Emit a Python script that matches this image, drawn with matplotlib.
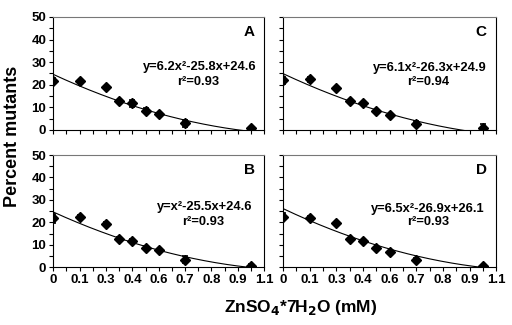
import numpy as np
import matplotlib
matplotlib.use('Agg')
import matplotlib.pyplot as plt
from matplotlib.ticker import MultipleLocator

plt.rcParams['font.family'] = ['Liberation Sans', 'DejaVu Sans']
plt.rcParams['font.weight'] = 'bold'

# dose positions on the tick grid (one step per labelled tick)
dose_pos = [0, 1, 2, 2.5, 3, 3.5, 4, 5, 7.5]
tick_labels = ['0', '0.1', '0.3', '0.4', '0.6', '0.7', '0.8', '0.9', '1.1']
y_ticks = [0, 10, 20, 30, 40, 50]

mut_a = [21.7, 21.7, 18.9, 12.7, 11.8, 8.5, 7.1, 3.0, 1.0]
err_a = [1.5, 0.5, 0.5, 0.5, 1.5, 1.2, 0.5, 1.5, 0.5]
mut_b = [21.7, 22.4, 19.4, 12.7, 11.7, 8.7, 7.5, 3.3, 0.7]
err_b = [1.8, 0.8, 0.8, 0.8, 0.8, 0.8, 0.8, 1.5, 0.5]
mut_c = [22.0, 22.4, 18.7, 12.7, 11.8, 8.5, 6.7, 2.8, 1.0]
err_c = [1.5, 1.0, 0.5, 0.5, 0.5, 0.5, 0.5, 1.0, 1.8]
mut_d = [22.5, 22.1, 19.6, 12.7, 11.7, 8.7, 6.7, 3.3, 0.5]
err_d = [1.5, 0.5, 0.5, 0.5, 0.5, 0.5, 0.5, 1.0, 0.5]

# quadratic trend lines (a, b, c) and their printed equations
fit_a = (6.2, -25.8, 24.6)
fit_b = (6.2, -25.5, 24.6)   # printed without the x^2 coefficient
fit_c = (6.1, -26.3, 24.9)
fit_d = (6.5, -26.9, 26.1)
eq_a = 'y=6.2x\u00b2-25.8x+24.6'
eq_b = 'y=x\u00b2-25.5x+24.6'
eq_c = 'y=6.1x\u00b2-26.3x+24.9'
eq_d = 'y=6.5x\u00b2-26.9x+26.1'
r2 = {'A': 0.93, 'B': 0.93, 'C': 0.94, 'D': 0.93}

fit_scale = 0.21  # fit units per tick step


def draw_panel(ax, mut, err, fit, eq, letter, show_x, show_y, eq_xy, r2_xy):
    x = np.array(dose_pos, dtype=float)
    xs = np.linspace(0, 7.5, 200)
    u = xs * fit_scale
    ax.plot(xs, fit[0] * u ** 2 + fit[1] * u + fit[2], color='black', lw=0.8)
    ax.errorbar(x, mut, yerr=err, fmt='D', color='black', ms=5.5,
                elinewidth=1.2, capsize=2.5, capthick=1.2)
    ax.set_xticks(range(len(tick_labels)))
    ax.set_yticks(y_ticks)
    ax.xaxis.set_minor_locator(MultipleLocator(0.5))
    ax.yaxis.set_minor_locator(MultipleLocator(5))
    ax.set_xlim(0, 8)
    ax.set_ylim(0, 50)
    ax.tick_params(which='both', direction='out', length=3, width=0.8,
                   labelsize=9.5, pad=2)
    if show_x:
        ax.set_xticklabels(tick_labels, fontweight='bold')
    else:
        ax.set_xticklabels([])
    if show_y:
        ax.set_yticklabels([str(v) for v in y_ticks], fontweight='bold')
    else:
        ax.set_yticklabels([])
    ax.spines['top'].set_color('#777777')
    for sp in ax.spines.values():
        sp.set_linewidth(0.8)
    ax.text(0.955, 0.87, letter, transform=ax.transAxes, ha='right',
            va='center', fontsize=11, fontweight='bold')
    ax.text(eq_xy[0], eq_xy[1], eq, transform=ax.transAxes,
            ha='center', va='center', fontsize=9.3, fontweight='bold')
    ax.text(r2_xy[0], r2_xy[1], f'r\u00b2={r2[letter]:.2f}',
            transform=ax.transAxes, ha='center', va='center',
            fontsize=9.3, fontweight='bold')


fig = plt.figure(figsize=(5.12, 3.25), dpi=100)
ax_a = fig.add_axes([0.104, 0.60, 0.412, 0.348])
ax_c = fig.add_axes([0.553, 0.60, 0.416, 0.348])
ax_b = fig.add_axes([0.104, 0.178, 0.412, 0.345])
ax_d = fig.add_axes([0.553, 0.178, 0.416, 0.345])

draw_panel(ax_a, mut_a, err_a, fit_a, eq_a, 'A', False, True,
           (0.695, 0.555), (0.685, 0.42))
draw_panel(ax_c, mut_c, err_c, fit_c, eq_c, 'C', False, False,
           (0.687, 0.55), (0.68, 0.42))
draw_panel(ax_b, mut_b, err_b, fit_b, eq_b, 'B', True, True,
           (0.716, 0.535), (0.71, 0.405))
draw_panel(ax_d, mut_d, err_d, fit_d, eq_d, 'D', True, False,
           (0.68, 0.52), (0.68, 0.405))

fig.text(0.025, 0.58, 'Percent mutants', rotation=90, ha='center',
         va='center', fontsize=13, fontweight='bold')
fig.text(0.587, 0.055, 'ZnSO$_\\mathbf{4}$*7H$_\\mathbf{2}$O (mM)',
         ha='center', va='center', fontsize=12.5, fontweight='bold')

fig.savefig('out.png', dpi=100)
